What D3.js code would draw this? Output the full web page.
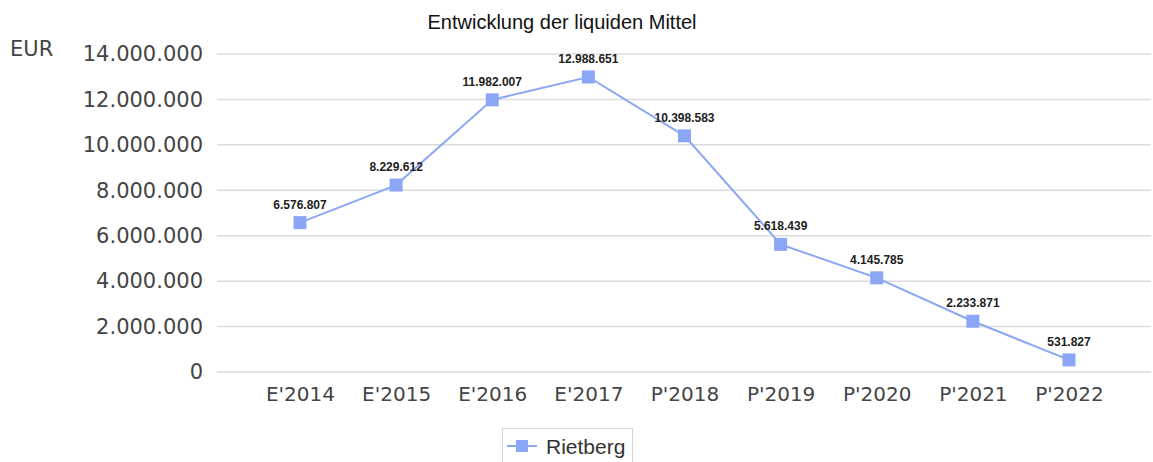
<!DOCTYPE html>
<html>
<head>
<meta charset="utf-8">
<script src="https://cdn.jsdelivr.net/npm/d3@7"></script>
<style>
  body { margin: 0; background: #fff; }
  svg { display: block; }
</style>
</head>
<body>
<svg id="chart"></svg>
<script>
// Data
const categories = ["E'2014", "E'2015", "E'2016", "E'2017", "P'2018", "P'2019", "P'2020", "P'2021", "P'2022"];
const values = [6576807, 8229612, 11982007, 12988651, 10398583, 5618439, 4145785, 2233871, 531827];
const yTicks = [0, 2000000, 4000000, 6000000, 8000000, 10000000, 12000000, 14000000];
const seriesName = "Rietberg";

const width = 1153;
const height = 462;
const lineColor = "#8ca6f6";
const axisFont = "'DejaVu Sans', Verdana, sans-serif";

const svg = d3.select("#chart").attr("width", width).attr("height", height);

// german thousands separator
const fmt = d3.formatLocale({ decimal: ",", thousands: ".", grouping: [3], currency: ["", " €"] }).format(",d");

const x = d3.scalePoint().domain(categories).range([300, 1069]);
const y = d3.scaleLinear().domain([0, 14000000]).range([372, 54]);

// Title
svg.append("text")
    .attr("x", 562).attr("y", 29)
    .attr("text-anchor", "middle")
    .style("font", "20px 'Liberation Sans', Arial, sans-serif")
    .attr("fill", "#111")
    .text("Entwicklung der liquiden Mittel");

// unit label
svg.append("text")
    .attr("x", 10).attr("y", 56)
    .style("font", "21px " + axisFont)
    .attr("fill", "#444")
    .text("EUR");

// Gridlines
svg.append("g")
    .selectAll("line")
    .data(yTicks)
    .join("line")
    .attr("x1", 217).attr("x2", 1151)
    .attr("y1", d => y(d)).attr("y2", d => y(d))
    .attr("stroke", "#dcdcdc")
    .attr("stroke-width", 1.5);

// Y axis labels
const yAxis = svg.append("g")
    .attr("transform", "translate(211,0)")
    .call(d3.axisLeft(y).tickValues(yTicks).tickFormat(fmt).tickSize(0).tickPadding(8));
yAxis.select(".domain").remove();
yAxis.selectAll("text")
    .style("font", "21px " + axisFont)
    .attr("fill", "#444");

// X axis labels
const xAxis = svg.append("g")
    .attr("transform", "translate(0,385)")
    .call(d3.axisBottom(x).tickSize(0).tickPadding(2));
xAxis.select(".domain").remove();
xAxis.selectAll("text")
    .style("font", "20px " + axisFont)
    .attr("fill", "#444");

// Line
const line = d3.line()
    .x((d, i) => x(categories[i]))
    .y(d => y(d));

svg.append("path")
    .datum(values)
    .attr("fill", "none")
    .attr("stroke", lineColor)
    .attr("stroke-width", 2)
    .attr("d", line);

// Markers
const msize = 13;
svg.append("g")
    .selectAll("rect")
    .data(values)
    .join("rect")
    .attr("x", (d, i) => x(categories[i]) - msize / 2)
    .attr("y", d => y(d) - msize / 2)
    .attr("width", msize).attr("height", msize)
    .attr("fill", lineColor);

// Data labels
svg.append("g")
    .selectAll("text")
    .data(values)
    .join("text")
    .attr("x", (d, i) => x(categories[i]))
    .attr("y", d => y(d) - 14)
    .attr("text-anchor", "middle")
    .style("font", "bold 12px 'Liberation Sans', Arial, sans-serif")
    .attr("fill", "#222")
    .text(d => fmt(d));

// Legend
const legend = svg.append("g").attr("transform", "translate(502,428)");
legend.append("rect")
    .attr("x", 0.5).attr("y", 0.5)
    .attr("width", 130).attr("height", 40)
    .attr("fill", "#fff")
    .attr("stroke", "#d4d4d4");
legend.append("line")
    .attr("x1", 5).attr("x2", 35)
    .attr("y1", 18).attr("y2", 18)
    .attr("stroke", lineColor).attr("stroke-width", 2);
legend.append("rect")
    .attr("x", 14).attr("y", 12)
    .attr("width", 12).attr("height", 12)
    .attr("fill", lineColor);
legend.append("text")
    .attr("x", 44).attr("y", 26)
    .style("font", "21px 'Liberation Sans', Arial, sans-serif")
    .attr("fill", "#333")
    .text(seriesName);
</script>
</body>
</html>
